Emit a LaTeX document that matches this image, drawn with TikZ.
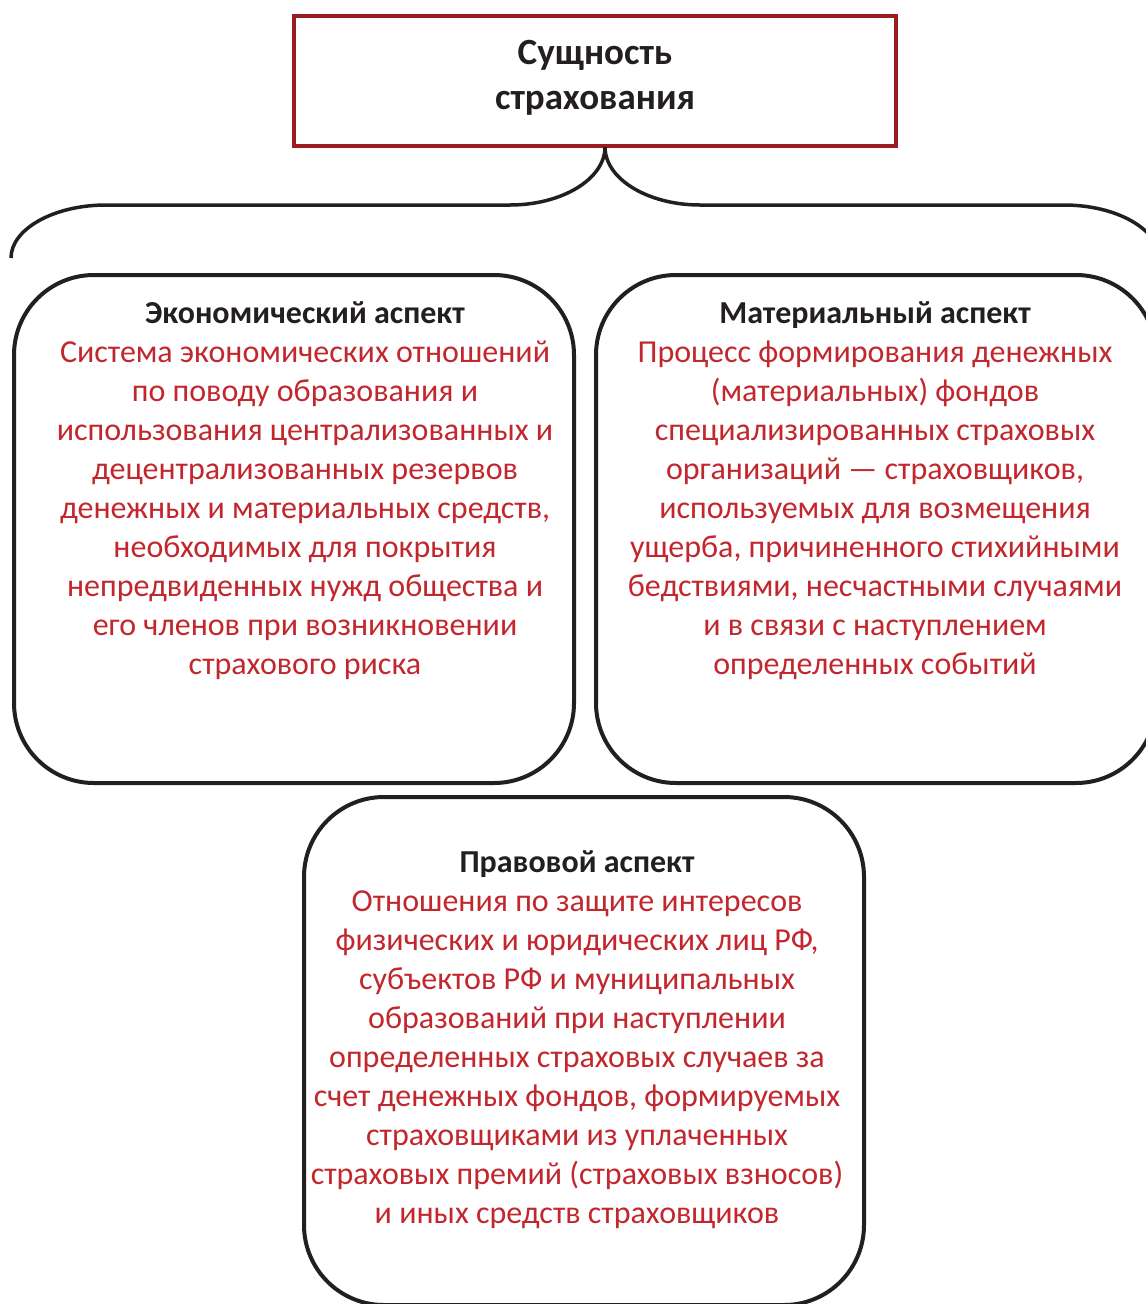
\documentclass[tikz,border=0pt]{standalone}
\usepackage{fontspec}
\setmainfont{Carlito}
\definecolor{tred}{HTML}{9B1D21}
\definecolor{txtred}{HTML}{C1272D}
\definecolor{ink}{HTML}{231F20}
\newcommand\aspecthead[1]{{\color{ink}\bfseries #1}}
\begin{document}
\begin{tikzpicture}[x=1pt,y=-1pt,
  aspectbox/.style={draw=ink,line width=4pt,rounded corners=80pt,minimum width=560pt,inner sep=0pt},
  bodytext/.style={align=center,text=txtred,font=\fontsize{32}{39}\selectfont,inner sep=0pt},
  brace/.style={draw=ink,line width=3.5pt}]
\clip (0,0) rectangle (1146,1304);
\fill[white] (0,0) rectangle (1146,1304);

% title
\node[draw=tred,line width=4pt,minimum width=602pt,minimum height=130pt,inner sep=0pt] (title) at (595,81) {};
\node[align=center,text=ink,font=\bfseries\fontsize{37}{45}\selectfont,inner sep=0pt] (titletext) at (595,78) {Сущность\\страхования};

% aspect boxes
\node[aspectbox,minimum height=508pt] (econ) at (294,529) {};
\node[aspectbox,minimum height=508pt] (mat) at (876,529) {};
\node[aspectbox,minimum height=508pt] (law) at (584,1051) {};

% brace
\coordinate (top) at (605,147);
\coordinate (lend) at (11,258);
\coordinate (rend) at (1159,258);
\draw[brace] (top) .. controls (605,179) and (562,205) .. (510,205) -- (106,205)
  .. controls (54,205) and (11,229) .. (lend);
\draw[brace] (top) .. controls (605,179) and (648,205) .. (700,205) -- (1064,205)
  .. controls (1116,205) and (1159,229) .. (rend);

% texts
\node[bodytext] (econtext) at (305,491) {\aspecthead{Экономический аспект}\\
Система экономических отношений\\
по поводу образования и\\
использования централизованных и\\
децентрализованных резервов\\
денежных и материальных средств,\\
необходимых для покрытия\\
непредвиденных нужд общества и\\
его членов при возникновении\\
страхового риска};

\node[bodytext] (mattext) at (875,491) {\aspecthead{Материальный аспект}\\
Процесс формирования денежных\\
(материальных) фондов\\
специализированных страховых\\
организаций — страховщиков,\\
используемых для возмещения\\
ущерба, причиненного стихийными\\
бедствиями, несчастными случаями\\
и в связи с наступлением\\
определенных событий};

\node[bodytext] (lawtext) at (577,1040) {\aspecthead{Правовой аспект}\\
Отношения по защите интересов\\
физических и юридических лиц РФ,\\
субъектов РФ и муниципальных\\
образований при наступлении\\
определенных страховых случаев за\\
счет денежных фондов, формируемых\\
страховщиками из уплаченных\\
страховых премий (страховых взносов)\\
и иных средств страховщиков};
\end{tikzpicture}
\end{document}
